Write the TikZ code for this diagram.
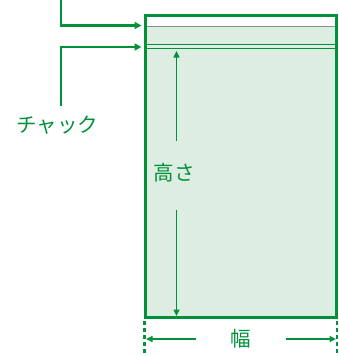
\documentclass[tikz,border=0pt]{standalone}
\usepackage{fontspec}
\newfontfamily\jpfont{Noto Sans CJK JP}
\usetikzlibrary{arrows.meta}
\definecolor{gr}{HTML}{00913A}
\definecolor{lgr}{HTML}{DDEDE1}
\definecolor{gry}{HTML}{8C8C8C}
\tikzset{
  leader/.style={draw=gr, line width=2.6bp, -{Triangle[length=7bp,width=7bp]}},
  dimarrow/.style={draw=gr, line width=1.4bp, -{Triangle[length=6.5bp,width=6bp]}},
  dashline/.style={draw=gr, line width=2.4bp, dash pattern=on 4bp off 3bp},
  lbl/.style={text=gr, font=\jpfont\fontsize{20.5bp}{22bp}\selectfont, inner sep=0pt},
}
\begin{document}
\begin{tikzpicture}[x=1bp,y=-1bp]
\useasboundingbox (0,0) rectangle (339,356);
% bag
\fill[lgr] (145.5,26) rectangle (337.5,317.5);
\fill[white] (145.5,15) rectangle (337.5,26);
\draw[gry, line width=1bp] (145.5,26) -- (337.5,26);
\draw[gr, line width=1.2bp] (145.5,44.3) -- (337.5,44.3);
\draw[gr, line width=1.2bp] (145.5,48.3) -- (337.5,48.3);
\coordinate (bagnw) at (145.5,15.3);
\coordinate (bagse) at (336.8,317.3);
\draw[gr, line width=3bp] (bagnw) rectangle (bagse);
% leaders
\coordinate (l1s) at (61,0);
\coordinate (l1t) at (141.5,25.5);
\coordinate (l2s) at (61,105.5);
\coordinate (l2t) at (141.5,47);
\draw[leader] (l1s) |- (l1t);
\draw[leader] (l2s) |- (l2t);
\node[lbl] (chuck) at (57.5,125) {チャック};
% height
\node[lbl] (height) at (174,173) {高さ};
\coordinate (h1) at (176.5,141);
\coordinate (h1t) at (176.5,51);
\coordinate (h2) at (176.5,210);
\coordinate (h2t) at (176.5,316);
\draw[dimarrow] (h1) -- (h1t);
\draw[dimarrow] (h2) -- (h2t);
% width
\coordinate (d1a) at (144.5,321);
\coordinate (d1b) at (144.5,356);
\coordinate (d2a) at (336.8,321);
\coordinate (d2b) at (336.8,356);
\draw[dashline] (d1a) -- (d1b);
\draw[dashline] (d2a) -- (d2b);
\node[lbl] (width) at (240.5,339) {幅};
\coordinate (w1) at (196,339);
\coordinate (w1t) at (146,339);
\coordinate (w2) at (286,339);
\coordinate (w2t) at (336,339);
\draw[dimarrow] (w1) -- (w1t);
\draw[dimarrow] (w2) -- (w2t);
\end{tikzpicture}
\end{document}
